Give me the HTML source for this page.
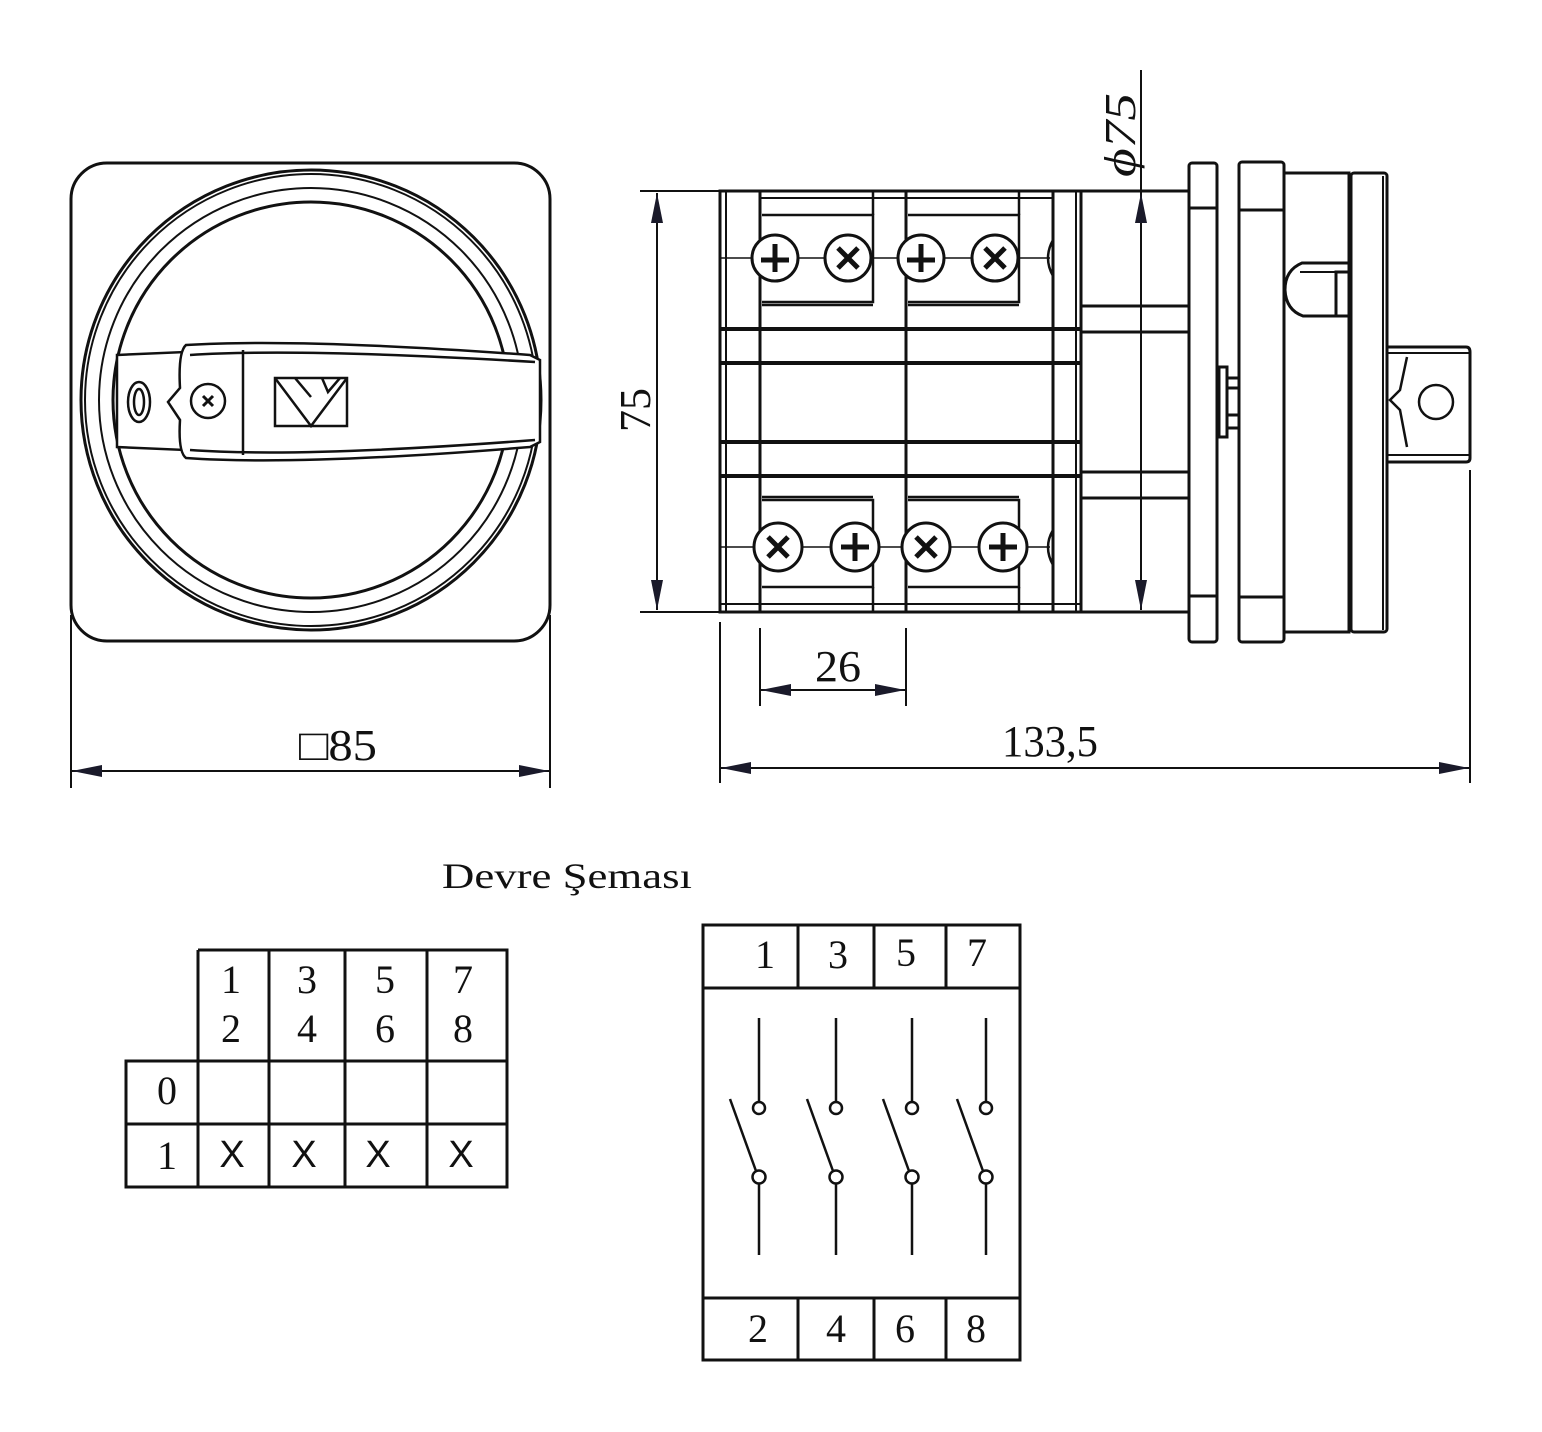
<!DOCTYPE html>
<html><head><meta charset="utf-8"><style>html,body{margin:0;padding:0;background:#fff}svg{display:block}</style></head><body>
<svg width="1542" height="1432" viewBox="0 0 1542 1432" xmlns="http://www.w3.org/2000/svg" font-family="Liberation Serif, serif" fill="none" stroke="#111">
<defs>
<marker id="ar" viewBox="0 0 30 12" refX="30" refY="6" markerWidth="30" markerHeight="12" markerUnits="userSpaceOnUse" orient="auto-start-reverse"><path d="M0,0 L30,6 L0,12 z" fill="#1a1a2a" stroke="none"/></marker>
</defs>
<!-- FRONT VIEW -->
<g stroke-width="3">
<rect x="71" y="163" width="479" height="478" rx="36"/>
<circle cx="311" cy="400" r="230"/>
<circle cx="311" cy="400" r="226" stroke-width="2"/>
<circle cx="311" cy="400" r="212" stroke-width="2"/>
<circle cx="311" cy="400" r="198"/>
</g>
<g stroke-width="2.5" fill="#fff">
<path d="M117,355 L185,352 L185,450 L117,447 Z"/>
<path d="M186,345 Q300,338 530,355 L540,360 L540,442 L530,447 Q300,466 186,458 Q178,452 180,420 L168,402 L180,388 Q178,352 186,345 Z"/>
</g>
<g stroke-width="2.5">
<path d="M190,355 Q300,348 535,362"/>
<path d="M190,450 Q300,458 535,440"/>
<line x1="243" y1="350" x2="243" y2="455"/>
<ellipse cx="139" cy="402" rx="11" ry="20"/>
<ellipse cx="139" cy="402" rx="5" ry="13"/>
<circle cx="208" cy="401" r="17"/>
<path d="M203,396 L213,406 M213,396 L203,406" stroke-width="3"/>
<rect x="275" y="378" width="72" height="48"/>
<path d="M275,378 L311,426 L347,378 M295,378 L311,397 M322,378 L328,392 L340,378"/>
</g>
<!-- SIDE VIEW: terminal block -->
<g stroke-width="3">
<rect x="720" y="191" width="361" height="421"/>
<line x1="726" y1="191" x2="726" y2="612" stroke-width="2"/>
<line x1="1076" y1="191" x2="1076" y2="612" stroke-width="2"/>
<line x1="760" y1="191" x2="760" y2="612"/>
<line x1="906" y1="191" x2="906" y2="612"/>
<line x1="1053" y1="191" x2="1053" y2="612"/>
<line x1="720" y1="329" x2="1081" y2="329" stroke-width="4"/>
<line x1="720" y1="363" x2="1081" y2="363" stroke-width="4"/>
<line x1="720" y1="442" x2="1081" y2="442" stroke-width="4"/>
<line x1="720" y1="476" x2="1081" y2="476" stroke-width="4"/>
<line x1="720" y1="604" x2="1081" y2="604" stroke-width="2"/>
<line x1="760" y1="198" x2="1053" y2="198" stroke-width="2"/>
</g>
<g stroke-width="2.5">
<path d="M762,215 L873,215 L873,302 L762,302 M762,305 L873,305"/>
<path d="M908,215 L1019,215 L1019,302 L908,302 M908,305 L1019,305"/>
<line x1="873" y1="191" x2="873" y2="215"/><line x1="1019" y1="191" x2="1019" y2="215"/>
<path d="M762,500 L873,500 L873,587 L762,587 M762,497 L873,497"/>
<path d="M908,500 L1019,500 L1019,587 L908,587 M908,497 L1019,497"/>
<line x1="873" y1="587" x2="873" y2="612"/><line x1="1019" y1="587" x2="1019" y2="612"/>
<line x1="720" y1="258" x2="1050" y2="258" stroke-width="1.5"/>
<line x1="720" y1="547" x2="1050" y2="547" stroke-width="1.5"/>
</g>
<g stroke-width="3" fill="#fff">
<circle cx="775" cy="258" r="23"/><circle cx="848" cy="258" r="23"/><circle cx="921" cy="258" r="23"/><circle cx="995" cy="258" r="23"/>
<circle cx="778" cy="547" r="24"/><circle cx="855" cy="547" r="24"/><circle cx="926" cy="547" r="24"/><circle cx="1003" cy="547" r="24"/>
</g>
<g stroke-width="5">
<path d="M775,244 V272 M761,260 H789"/><path d="M838,248 L858,268 M858,248 L838,268"/>
<path d="M921,244 V272 M907,260 H935"/><path d="M985,248 L1005,268 M1005,248 L985,268"/>
<path d="M768,537 L788,557 M788,537 L768,557"/><path d="M855,533 V561 M841,547 H869"/>
<path d="M916,537 L936,557 M936,537 L916,557"/><path d="M1003,533 V561 M989,547 H1017"/>
</g>
<path d="M1053,240 Q1043,258 1053,276 M1053,530 Q1043,547 1053,565" stroke-width="2.5"/>
<!-- cylinder -->
<g stroke-width="3">
<rect x="1081" y="191" width="108" height="421"/>
<line x1="1081" y1="306" x2="1189" y2="306"/>
<line x1="1081" y1="332" x2="1189" y2="332"/>
<line x1="1081" y1="472" x2="1189" y2="472"/>
<line x1="1081" y1="498" x2="1189" y2="498"/>
<rect x="1189" y="163" width="28" height="479" rx="3"/>
<line x1="1189" y1="208" x2="1217" y2="208"/><line x1="1189" y1="596" x2="1217" y2="596"/>
<rect x="1219" y="367" width="8" height="70"/>
<path d="M1227,378 H1238 M1227,388 H1238 M1227,415 H1238 M1227,428 H1238"/>
<rect x="1239" y="162" width="45" height="480" rx="3"/>
<line x1="1239" y1="210" x2="1284" y2="210"/><line x1="1239" y1="597" x2="1284" y2="597"/>
<path d="M1284,173 H1349 V632 H1284"/>
<rect x="1351" y="173" width="36" height="459" rx="3"/>
<line x1="1383" y1="176" x2="1383" y2="630" stroke-width="2"/>
<path d="M1348,263 H1302 Q1285,270 1285,290 Q1286,310 1303,316 H1348"/>
<rect x="1336" y="272" width="14" height="44"/>
<path d="M1300,272 H1336" stroke-width="2"/>
<path d="M1388,347 H1466 Q1470,347 1470,352 V458 Q1470,462 1466,462 H1388"/>
<path d="M1388,353 H1470 M1388,455 H1470" stroke-width="2"/>
<path d="M1407,357 L1400,390 L1390,400 L1400,410 L1407,447" stroke-width="2.5"/>
<circle cx="1436" cy="402" r="17" stroke-width="2.5"/>
</g>
<!-- dimensions -->
<g stroke-width="2">
<line x1="640" y1="191" x2="720" y2="191"/><line x1="640" y1="612" x2="720" y2="612"/>
<line x1="657" y1="193" x2="657" y2="610" marker-start="url(#ar)" marker-end="url(#ar)"/>
<line x1="1081" y1="191" x2="1189" y2="191"/><line x1="1081" y1="612" x2="1189" y2="612"/>
<line x1="1141" y1="70" x2="1141" y2="610" marker-end="url(#ar)"/>
<line x1="1141" y1="240" x2="1141" y2="193" marker-end="url(#ar)"/>
<line x1="760" y1="628" x2="760" y2="706"/><line x1="906" y1="628" x2="906" y2="706"/>
<line x1="761" y1="690" x2="905" y2="690" marker-start="url(#ar)" marker-end="url(#ar)"/>
<line x1="71" y1="615" x2="71" y2="788"/><line x1="550" y1="615" x2="550" y2="788"/>
<line x1="72" y1="771" x2="549" y2="771" marker-start="url(#ar)" marker-end="url(#ar)"/>
<line x1="720" y1="622" x2="720" y2="783"/><line x1="1470" y1="470" x2="1470" y2="783"/>
<line x1="721" y1="768" x2="1469" y2="768" marker-start="url(#ar)" marker-end="url(#ar)"/>
</g>
<g fill="#111" stroke="none" font-size="44">
<text x="650" y="410" transform="rotate(-90 650 410)" text-anchor="middle" textLength="44" lengthAdjust="spacingAndGlyphs">75</text>
<text x="1135" y="135" transform="rotate(-90 1135 135)" text-anchor="middle" textLength="84" lengthAdjust="spacingAndGlyphs" font-style="italic">ϕ75</text>
<text x="838" y="681" text-anchor="middle" textLength="46" lengthAdjust="spacingAndGlyphs">26</text>
<text x="1050" y="756" text-anchor="middle" textLength="96" lengthAdjust="spacingAndGlyphs">133,5</text>
<text x="338" y="760" text-anchor="middle" textLength="78" lengthAdjust="spacingAndGlyphs">□85</text>
<text x="442" y="888" font-size="36" textLength="250" lengthAdjust="spacingAndGlyphs">Devre Şeması</text>
</g>
<!-- left table -->
<g stroke-width="3">
<path d="M198,950 H507 V1187 H126 V1061 H507 M126,1124 H507 M198,950 V1187 M269,950 V1187 M345,950 V1187 M427,950 V1187"/>
</g>
<g fill="#111" stroke="none" font-size="40" text-anchor="middle">
<text x="231" y="993">1</text><text x="231" y="1042">2</text>
<text x="307" y="993">3</text><text x="307" y="1042">4</text>
<text x="385" y="993">5</text><text x="385" y="1042">6</text>
<text x="463" y="993">7</text><text x="463" y="1042">8</text>
<text x="167" y="1104">0</text><text x="167" y="1169">1</text>
</g>
<g fill="#111" stroke="none" font-size="38" text-anchor="middle" font-family="Liberation Sans, sans-serif">
<text x="232" y="1167">X</text><text x="304" y="1167">X</text><text x="378" y="1167">X</text><text x="461" y="1167">X</text>
</g>
<!-- schematic -->
<g stroke-width="3">
<rect x="703" y="925" width="317" height="435"/>
<line x1="703" y1="988" x2="1020" y2="988"/><line x1="703" y1="1298" x2="1020" y2="1298"/>
<path d="M798,925 V988 M874,925 V988 M946,925 V988 M798,1298 V1360 M874,1298 V1360 M946,1298 V1360"/>
</g>
<g stroke-width="2.5">
<g id="sw"><line x1="759" y1="1018" x2="759" y2="1102"/><circle cx="759" cy="1108" r="6"/><circle cx="759" cy="1177" r="6.5"/><line x1="759" y1="1184" x2="759" y2="1255"/><line x1="730" y1="1099" x2="756" y2="1171"/></g>
<use href="#sw" x="77"/><use href="#sw" x="153"/><use href="#sw" x="227"/>
</g>
<g fill="#111" stroke="none" font-size="40" text-anchor="middle">
<text x="765" y="968">1</text><text x="838" y="968">3</text><text x="906" y="966">5</text><text x="977" y="966">7</text>
<text x="758" y="1342">2</text><text x="836" y="1342">4</text><text x="905" y="1342">6</text><text x="976" y="1342">8</text>
</g>
</svg>
</body></html>
